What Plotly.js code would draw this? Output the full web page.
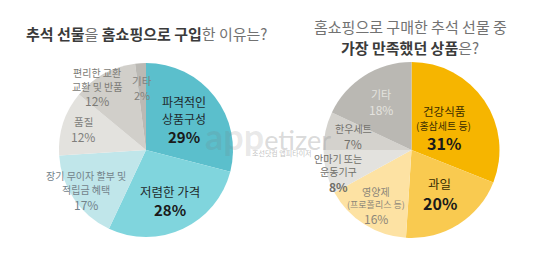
<!DOCTYPE html>
<html><head><meta charset="utf-8">
<script src="https://cdn.plot.ly/plotly-3.0.1.min.js"></script>
<style>html,body{margin:0;padding:0;background:#fff}#chart{width:540px;height:255px}</style>
</head><body><div id="chart"></div>
<script>
// ---- data ----
const leftLabels = ["파격적인 상품구성", "저렴한 가격", "장기 무이자 할부 및 적립금 혜택", "품질", "편리한 교환 교환 및 반품", "기타"];
const leftValues = [29, 28, 17, 12, 12, 2];
const leftTextLines = [["파격적인", "상품구성"], ["저렴한 가격"], ["장기 무이자 할부 및", "적립금 혜택"], ["품질"], ["편리한 교환", "교환 및 반품"], ["기타"]];
const rightLabels = ["건강식품 (홍삼세트 등)", "과일", "영양제 (프로폴리스 등)", "안마기 또는 운동기구", "한우세트", "기타"];
const rightValues = [31, 20, 16, 8, 7, 18];
const rightTextLines = [["건강식품", "(홍삼세트 등)"], ["과일"], ["영양제", "(프로폴리스 등)"], ["안마기 또는", "운동기구"], ["한우세트"], ["기타"]];

// ---- styles ----
const W = 540, H = 255;
const FONT = "Noto Sans CJK KR, Noto Sans, sans-serif";
const leftColors = ["#5bbfcc", "#80d5dd", "#c0e6ea", "#e3e2de", "#d1cfca", "#bbb9b4"];
const rightColors = ["#f6b500", "#f9ca50", "#fde2a3", "#e3e2de", "#d4d2cd", "#bab8b3"];
const leftGeom = {cx: 146, cy: 150, r: 87};
const rightGeom = {cx: 411.5, cy: 150, r: 88};
// label style per slice: radial fraction, angle nudge, name size, 2nd line size, pct size, name colour, pct colour, bold pct
const leftStyle = [
  {f: 0.56, n: 0, ns: 12, ps: 15, nc: "#1f2a2c", pc: "#1a1a1a", b: true},
  {f: 0.65, n: 0, ns: 12.5, ps: 15, nc: "#1f2a2c", pc: "#1a1a1a", b: true},
  {f: 0.83, n: 0, ns: 10, ps: 12, nc: "#73838a", pc: "#73838a", b: false},
  {f: 0.76, n: 0, ns: 10.5, ps: 12, nc: "#807f7c", pc: "#807f7c", b: false},
  {f: 0.91, n: -9, ns: 10, ps: 12, nc: "#7c7b76", pc: "#7c7b76", b: false},
  {f: 0.72, n: 0, ns: 10.5, ps: 11, nc: "#82817c", pc: "#82817c", b: false}
];
const rightStyle = [
  {f: 0.44, n: 0, ns: 11.5, s2: 10, ps: 16, nc: "#3a2d00", pc: "#1a1a1a", b: true},
  {f: 0.60, n: 0, ns: 12.5, ps: 16, nc: "#3a2d00", pc: "#1a1a1a", b: true},
  {f: 0.75, n: 0, ns: 10, s2: 9, ps: 12, nc: "#8c8679", pc: "#8c8679", b: false},
  {f: 0.87, n: -3, ns: 10, ps: 12, nc: "#6f6e68", pc: "#6f6e68", b: true},
  {f: 0.68, n: 0, ns: 10, ps: 12, nc: "#72716c", pc: "#72716c", b: false},
  {f: 0.65, n: 0, ns: 11, ps: 12, nc: "#e4e3df", pc: "#e4e3df", b: false}
];
const LINE = 1.35;

const px = x => x / W, py = y => 1 - y / H;

function pieTrace(labels, values, colors, g) {
  return {
    type: "pie", labels: labels, values: values, sort: false, direction: "clockwise", rotation: 0,
    marker: {colors: colors, line: {width: 0}}, textinfo: "none", hoverinfo: "label+percent",
    showlegend: false,
    domain: {x: [px(g.cx - g.r), px(g.cx + g.r)], y: [py(g.cy + g.r), py(g.cy - g.r)]}
  };
}

function labelAnns(values, lines, styles, g) {
  const total = values.reduce((a, b) => a + b, 0);
  let cum = 0;
  const out = [];
  values.forEach((v, i) => {
    const s = styles[i];
    const ang = ((cum + v / 2) / total * 360 + s.n) * Math.PI / 180;
    cum += v;
    const x = g.cx + s.f * g.r * Math.sin(ang);
    const y = g.cy - s.f * g.r * Math.cos(ang);
    const items = lines[i].map((t, k) => ({t: t, size: (k > 0 && s.s2) ? s.s2 : s.ns, color: s.nc}));
    items.push({t: s.b ? "<b>" + v + "%</b>" : v + "%", size: s.ps, color: s.pc});
    const hs = items.map(it => it.size * LINE);
    const tot = hs.reduce((a, b) => a + b, 0);
    let yy = y - tot / 2;
    items.forEach((it, k) => {
      const yc = yy + hs[k] / 2;
      yy += hs[k];
      out.push({x: px(x), y: py(yc), xref: "paper", yref: "paper", showarrow: false, borderpad: 0,
        xanchor: "center", yanchor: "middle", text: it.t, font: {family: FONT, size: it.size, color: it.color}});
    });
  });
  return out;
}

const DARK = "#3b3b3b", LIGHT = "#727272";
const titles = [
  {x: px(146), y: py(34), text: `<b>추석 선물</b><span style="color:${LIGHT}">을</span> <b>홈쇼핑으로 구입</b><span style="color:${LIGHT}">한 이유는?</span>`},
  {x: px(410), y: py(27), text: `<span style="color:${LIGHT}">홈쇼핑으로 구매한 추석 선물 중</span>`},
  {x: px(410), y: py(47), text: `<b>가장 만족했던 상품</b><span style="color:${LIGHT}">은?</span>`}
].map(t => Object.assign({xref: "paper", yref: "paper", showarrow: false, borderpad: 0, xanchor: "center", yanchor: "middle",
  font: {family: FONT, size: 15, color: DARK}}, t));

const watermark = [
  {x: px(268), y: py(136), text: `<span style="font-size:36px;color:rgba(120,120,120,0.42)"><b>app</b></span>etizer`,
    font: {family: "Lato, sans-serif", size: 27, color: "rgba(160,160,160,0.40)"}},
  {x: px(282), y: py(153), text: "조선닷컴 앱피타이저", font: {family: FONT, size: 7, color: "rgba(150,150,150,0.6)"}}
].map(t => Object.assign({xref: "paper", yref: "paper", showarrow: false, borderpad: 0, xanchor: "center", yanchor: "middle"}, t));

const data = [pieTrace(leftLabels, leftValues, leftColors, leftGeom), pieTrace(rightLabels, rightValues, rightColors, rightGeom)];
const layout = {
  width: W, height: H, margin: {l: 0, r: 0, t: 0, b: 0}, paper_bgcolor: "#ffffff", plot_bgcolor: "#ffffff",
  font: {family: FONT},
  annotations: [].concat(titles, watermark,
    labelAnns(leftValues, leftTextLines, leftStyle, leftGeom),
    labelAnns(rightValues, rightTextLines, rightStyle, rightGeom))
};
Plotly.newPlot("chart", data, layout, {displayModeBar: false, staticPlot: true});
</script></body></html>
